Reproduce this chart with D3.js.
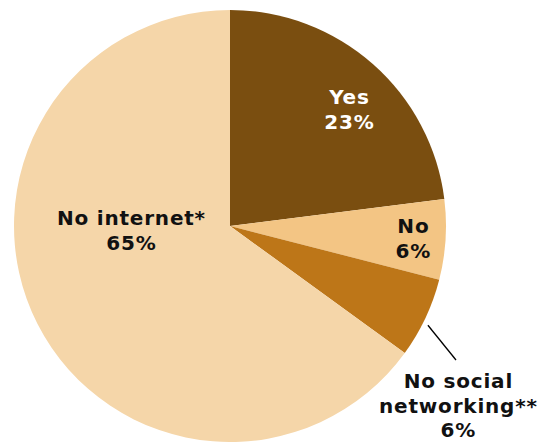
<!DOCTYPE html>
<html>
<head>
<meta charset="utf-8">
<script src="https://cdn.jsdelivr.net/npm/d3@7"></script>
<style>
  html, body { margin: 0; padding: 0; background: #fff; }
  svg { display: block; }
  text { font-family: "DejaVu Sans", Verdana, sans-serif; font-weight: bold; }
</style>
</head>
<body>
<script>
// Share of respondents by social-networking use
const categories = ["Yes", "No", "No social networking**", "No internet*"];
const values = [23, 6, 6, 65];
const colors = ["#7A4E10", "#F3C584", "#BD7618", "#F5D6A9"];
const labelLines = [["Yes", "23%"], ["No", "6%"], ["No social", "networking**", "6%"], ["No internet*", "65%"]];
const labelColors = ["#ffffff", "#111111", "#111111", "#111111"];

const width = 548, height = 442;
const cx = 230, cy = 226, radius = 216;

// label block positions relative to the pie centre: [x, first baseline]
const labelPos = [[119, -122], [183, 7], [228, 162], [-99, -1]];
// leader line for the small outside label: end point relative to centre
const leaderEnd = [226, 134];

const svg = d3.select("body").append("svg")
  .attr("width", width).attr("height", height);

const g = svg.append("g").attr("transform", `translate(${cx},${cy})`);

const data = categories.map((c, i) => ({ category: c, value: values[i], i }));

const pie = d3.pie().value(d => d.value).sort(null);
const arcs = pie(data);

const arc = d3.arc().innerRadius(0).outerRadius(radius);

g.selectAll("path.slice")
  .data(arcs)
  .join("path")
  .attr("class", "slice")
  .attr("d", arc)
  .attr("fill", d => colors[d.data.i]);

// leader line from the "No social networking" slice edge to its label
const outside = arcs[2];
const midA = (outside.startAngle + outside.endAngle) / 2 + 0.025;
g.append("line")
  .attr("x1", Math.sin(midA) * radius * 1.025)
  .attr("y1", -Math.cos(midA) * radius * 1.025)
  .attr("x2", leaderEnd[0]).attr("y2", leaderEnd[1])
  .attr("stroke", "#000").attr("stroke-width", 1.3);

const fontSize = 20;
const lineH = 24.5;

arcs.forEach((a, k) => {
  const [x, y0] = labelPos[k];
  const t = g.append("text")
    .attr("text-anchor", "middle")
    .attr("fill", labelColors[k])
    .attr("font-size", fontSize)
    .attr("letter-spacing", 0.8);
  labelLines[k].forEach((ln, j) => {
    t.append("tspan")
      .attr("x", x + 0.4)
      .attr("y", y0 + j * lineH)
      .text(ln);
  });
});
</script>
</body>
</html>
